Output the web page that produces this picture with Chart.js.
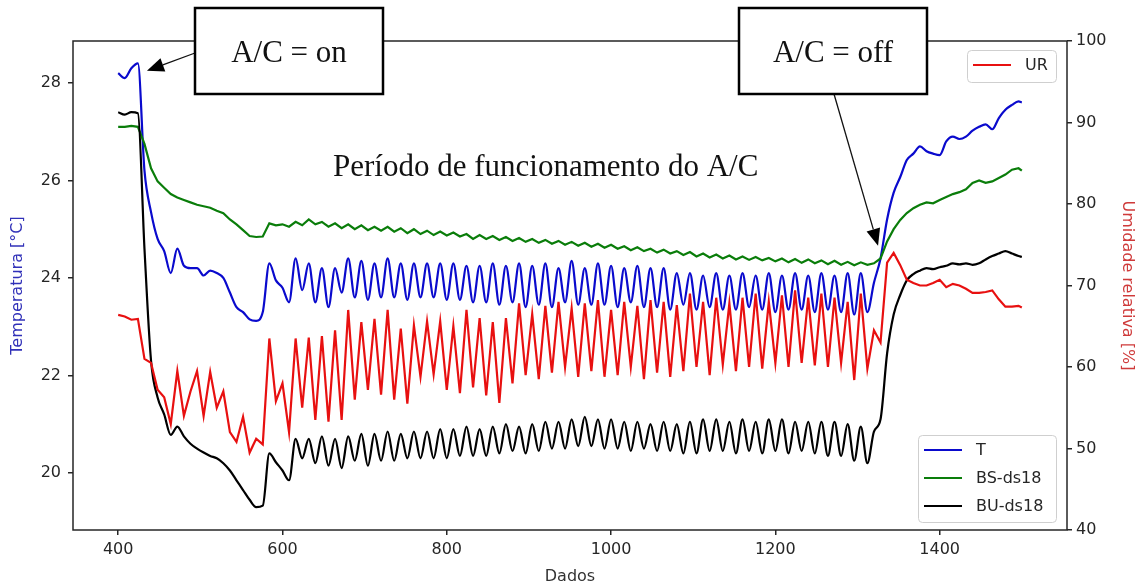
<!DOCTYPE html>
<html>
<head>
<meta charset="utf-8">
<script src="https://cdn.jsdelivr.net/npm/chart.js@4/dist/chart.umd.min.js"></script>
<style>
  html, body { margin: 0; padding: 0; background: #fff; }
  canvas { display: block; }
</style>
</head>
<body>
<canvas id="acChart" width="1142" height="587"></canvas>
<script>
// x positions (Dados)
const dados = [
  400, 408, 416, 424, 432, 440, 448, 456, 464, 472,
  480, 488, 496, 504, 512, 520, 528, 536, 544, 552,
  560, 568, 576, 584, 592, 600, 608,
  616, 624, 632, 640, 648, 656, 664, 672, 680, 688,
  696, 704, 712, 720, 728, 736, 744, 752, 760, 768,
  776, 784, 792, 800, 808, 816, 824, 832, 840, 848,
  856, 864, 872, 880, 888, 896, 904, 912, 920, 928,
  936, 944, 952, 960, 968, 976, 984, 992, 1000, 1008,
  1016, 1024, 1032, 1040, 1048, 1056, 1064, 1072, 1080, 1088,
  1096, 1104, 1112, 1120, 1128, 1136, 1144, 1152, 1160, 1168,
  1176, 1184, 1192, 1200, 1208, 1216, 1224, 1232, 1240, 1248,
  1256, 1264, 1272, 1280, 1288, 1296, 1304, 1312,
  1320, 1328, 1336, 1344, 1352, 1360, 1368, 1376, 1384, 1392,
  1400, 1408, 1416, 1424, 1432, 1440, 1448, 1456, 1464, 1472,
  1480, 1488, 1496, 1500
];

// T [°C]
const tempT = [
  28.2, 28.1, 28.3, 28.4, 26.2, 25.35, 24.8, 24.55, 24.1, 24.6,
  24.25, 24.2, 24.2, 24.05, 24.15, 24.1, 24.0, 23.7, 23.4, 23.3,
  23.15, 23.12, 23.3, 24.3, 23.95, 23.8, 23.5,
  24.4, 23.75, 24.3, 23.5, 24.2, 23.4, 24.2, 23.7, 24.4, 23.6,
  24.35, 23.55, 24.3, 23.6, 24.4, 23.6, 24.3, 23.55, 24.3, 23.6,
  24.3, 23.6, 24.3, 23.55, 24.3, 23.55, 24.25, 23.5, 24.25, 23.5,
  24.3, 23.45, 24.25, 23.5, 24.3, 23.4, 24.25, 23.45, 24.3, 23.4,
  24.2, 23.5, 24.35, 23.45, 24.2, 23.45, 24.3, 23.45, 24.25, 23.4,
  24.2, 23.5, 24.25, 23.4, 24.2, 23.4, 24.2, 23.35, 24.1, 23.45,
  24.1, 23.35, 24.05, 23.4, 24.1, 23.35, 24.05, 23.35, 24.1, 23.4,
  24.05, 23.35, 24.1, 23.3, 24.05, 23.35, 24.1, 23.35, 24.05, 23.3,
  24.1, 23.35, 24.05, 23.3, 24.1, 23.25, 24.1, 23.3,
  23.9, 24.4, 25.2, 25.75, 26.07, 26.42, 26.55, 26.7, 26.6, 26.55,
  26.52, 26.8, 26.9, 26.85, 26.9, 27.02, 27.1, 27.15, 27.05, 27.28,
  27.45, 27.55, 27.62, 27.6
];

// BS-ds18 [°C]
const tempBS = [
  27.1, 27.1, 27.12, 27.1, 26.75, 26.25, 25.98, 25.85, 25.72, 25.65,
  25.6, 25.55, 25.5, 25.47, 25.44, 25.38, 25.33, 25.2, 25.1, 24.98,
  24.86, 24.84, 24.85, 25.12, 25.08, 25.1, 25.05,
  25.15, 25.08, 25.2, 25.1, 25.15, 25.05, 25.12, 25.02, 25.1, 25.0,
  25.08, 24.98, 25.05, 24.97, 25.05, 24.95, 25.02, 24.92, 25.0, 24.9,
  24.97, 24.88, 24.95, 24.87, 24.93, 24.85, 24.9, 24.8, 24.88, 24.8,
  24.86, 24.78, 24.84, 24.76, 24.82, 24.74, 24.8, 24.72, 24.78, 24.7,
  24.76, 24.68, 24.74, 24.66, 24.72, 24.64, 24.7, 24.62, 24.68, 24.6,
  24.65, 24.57, 24.63, 24.55, 24.6, 24.52, 24.58, 24.5, 24.55, 24.47,
  24.53, 24.44, 24.5, 24.42, 24.48, 24.4, 24.46, 24.38, 24.44, 24.37,
  24.43, 24.36, 24.41, 24.34, 24.4, 24.32, 24.39, 24.31, 24.38, 24.3,
  24.36, 24.28, 24.35, 24.27, 24.33, 24.26, 24.32, 24.27,
  24.3, 24.4, 24.75, 25.0, 25.19, 25.33, 25.43, 25.5, 25.55, 25.53,
  25.6, 25.66, 25.72, 25.76, 25.82, 25.95, 26.0, 25.95, 25.98, 26.05,
  26.12, 26.22, 26.25, 26.2
];

// BU-ds18 [°C]
const tempBU = [
  27.4, 27.35, 27.4, 27.38, 24.6, 22.3, 21.55, 21.2, 20.78, 20.95,
  20.75, 20.6, 20.5, 20.42, 20.35, 20.3, 20.2, 20.05, 19.85, 19.65,
  19.45, 19.3, 19.33, 20.4, 20.22, 20.05, 19.85,
  20.7, 20.3, 20.7, 20.2, 20.75, 20.15, 20.7, 20.1, 20.75, 20.25,
  20.8, 20.15, 20.8, 20.25, 20.85, 20.25, 20.8, 20.3, 20.85, 20.3,
  20.85, 20.3, 20.9, 20.3, 20.9, 20.35, 20.95, 20.35, 20.9, 20.35,
  20.95, 20.4, 21.0, 20.45, 20.95, 20.4, 21.0, 20.45, 21.05, 20.5,
  21.05, 20.5, 21.1, 20.55, 21.15, 20.55, 21.1, 20.5, 21.1, 20.5,
  21.05, 20.45, 21.05, 20.5, 21.0, 20.45, 21.05, 20.45, 21.0, 20.4,
  21.05, 20.4, 21.1, 20.45, 21.1, 20.45, 21.05, 20.4, 21.1, 20.45,
  21.05, 20.4, 21.1, 20.45, 21.1, 20.4, 21.05, 20.45, 21.05, 20.4,
  21.05, 20.35, 21.05, 20.35, 21.0, 20.25, 20.95, 20.2,
  20.85, 21.1, 22.45, 23.25, 23.65, 23.95, 24.08, 24.15, 24.2, 24.18,
  24.22, 24.25, 24.3, 24.28, 24.3, 24.27, 24.3, 24.38, 24.45, 24.5,
  24.55, 24.5, 24.45, 24.43
];

// UR [%]
const umidUR = [
  66.4, 66.2, 65.8, 65.9, 61.0, 60.5, 57.2, 56.3, 53.0, 59.5,
  54.0, 57.0, 59.5, 54.0, 59.4, 55.0, 57.0, 52.0, 50.8, 53.9,
  49.5, 51.2, 50.5, 63.5, 55.8, 58.0, 52.0,
  63.5, 55.0, 63.6, 53.5, 63.8, 53.3, 64.5, 53.5, 67.0, 56.0,
  65.5, 57.2, 65.9, 56.6, 67.0, 56.0, 64.7, 55.5, 65.1, 58.8,
  65.6, 59.1, 65.6, 57.2, 65.0, 56.8, 67.0, 57.5, 66.0, 56.5,
  65.5, 55.6, 66.0, 58.0, 67.8, 59.0, 66.5, 58.5, 67.5, 59.3,
  68.0, 60.0, 67.2, 58.8, 67.8, 59.5, 68.2, 58.8, 67.0, 59.0,
  68.0, 60.0, 67.5, 58.5, 68.2, 59.3, 68.0, 58.8, 67.6, 59.5,
  69.0, 60.0, 68.0, 59.0, 68.5, 60.3, 67.8, 59.5, 68.5, 60.0,
  69.0, 59.8, 68.0, 60.5, 68.8, 60.0, 69.4, 60.5, 68.5, 60.2,
  69.0, 60.0, 68.5, 60.5, 68.0, 58.4, 69.0, 59.8,
  64.5, 63.0, 72.8, 74.0, 72.5, 70.7, 70.3, 70.0, 70.0, 70.3,
  70.7, 69.8, 70.2, 70.0, 69.6, 69.1, 69.1, 69.2, 69.4, 68.3,
  67.4, 67.4, 67.5, 67.3
];

const xTicks = [400, 600, 800, 1000, 1200, 1400];
const tempTicks = [20, 22, 24, 26, 28];
const urTicks = [40, 50, 60, 70, 80, 90, 100];

const sans = 'DejaVu Sans';
const serif = '"Liberation Serif", "Times New Roman", serif';
const inkColor = '#262626';

function points(ys) {
  return dados.map((x, i) => ({ x: x, y: ys[i] }));
}

function fixedTicks(values) {
  return scale => { scale.ticks = values.map(v => ({ value: v })); };
}

function drawArrow(ctx, x0, y0, x1, y1) {
  const ang = Math.atan2(y1 - y0, x1 - x0);
  const head = 17, half = 7;
  const bx = x1 - head * Math.cos(ang), by = y1 - head * Math.sin(ang);
  ctx.strokeStyle = '#111';
  ctx.fillStyle = '#000';
  ctx.lineWidth = 1.3;
  ctx.beginPath();
  ctx.moveTo(x0, y0);
  ctx.lineTo(bx, by);
  ctx.stroke();
  ctx.beginPath();
  ctx.moveTo(x1, y1);
  ctx.lineTo(bx - half * Math.sin(ang), by + half * Math.cos(ang));
  ctx.lineTo(bx + half * Math.sin(ang), by - half * Math.cos(ang));
  ctx.closePath();
  ctx.fill();
}

function drawNoteBox(ctx, x, y, w, h, text) {
  ctx.fillStyle = '#fff';
  ctx.fillRect(x, y, w, h);
  ctx.lineWidth = 2.5;
  ctx.strokeStyle = '#000';
  ctx.strokeRect(x, y, w, h);
  ctx.fillStyle = '#111';
  ctx.font = '31px ' + serif;
  ctx.textAlign = 'center';
  ctx.textBaseline = 'alphabetic';
  ctx.fillText(text, x + w / 2, y + h / 2 + 11);
}

function drawLegendBox(ctx, sets, x, y, w, h) {
  ctx.fillStyle = 'rgba(255,255,255,0.85)';
  ctx.strokeStyle = '#cfcfcf';
  ctx.lineWidth = 1;
  ctx.beginPath();
  ctx.roundRect(x + 0.5, y + 0.5, w, h, 4);
  ctx.fill();
  ctx.stroke();
  ctx.font = '16px ' + sans;
  ctx.textAlign = 'left';
  ctx.textBaseline = 'middle';
  sets.forEach((ds, i) => {
    const cy = y + 15 + i * 28;
    ctx.strokeStyle = ds.borderColor;
    ctx.lineWidth = 2.2;
    ctx.beginPath();
    ctx.moveTo(x + 6, cy);
    ctx.lineTo(x + 44, cy);
    ctx.stroke();
    ctx.fillStyle = inkColor;
    ctx.fillText(ds.label, x + 58, cy + 1);
  });
}

const notesPlugin = {
  id: 'notes',
  afterDatasetsDraw(chart) {
    const { ctx, chartArea: a, scales } = chart;
    const ds = chart.data.datasets;
    ctx.save();
    // axes frame
    ctx.strokeStyle = inkColor;
    ctx.lineWidth = 1.5;
    ctx.strokeRect(a.left, a.top, a.right - a.left, a.bottom - a.top);

    drawLegendBox(ctx, [ds[3]], 967, 50, 89, 32);
    drawLegendBox(ctx, [ds[0], ds[1], ds[2]], 918, 435, 138, 87);

    ctx.fillStyle = '#111';
    ctx.font = '31px ' + serif;
    ctx.textAlign = 'left';
    ctx.textBaseline = 'alphabetic';
    ctx.fillText('Período de funcionamento do A/C', 333, 176);

    drawArrow(ctx, 195, 53, scales.x.getPixelForValue(435), scales.y.getPixelForValue(28.25));
    drawArrow(ctx, 834, 94, scales.x.getPixelForValue(1325), scales.y.getPixelForValue(24.66));
    drawNoteBox(ctx, 195, 8, 188, 86, 'A/C = on');
    drawNoteBox(ctx, 739, 8, 188, 86, 'A/C = off');
    ctx.restore();
  }
};

const tickGrid = { drawOnChartArea: false, drawTicks: true, tickLength: 5, color: inkColor, lineWidth: 1.5 };
const plainLabel = v => String(v);

new Chart(document.getElementById('acChart').getContext('2d'), {
  type: 'line',
  data: {
    datasets: [
      { label: 'T', data: points(tempT), borderColor: '#0a0acd', yAxisID: 'y', order: 3, cubicInterpolationMode: 'monotone' },
      { label: 'BS-ds18', data: points(tempBS), borderColor: '#0a7d0a', yAxisID: 'y', order: 2 },
      { label: 'BU-ds18', data: points(tempBU), borderColor: '#000000', yAxisID: 'y', order: 1, cubicInterpolationMode: 'monotone' },
      { label: 'UR', data: points(umidUR), borderColor: '#e81010', yAxisID: 'y2', order: 0 }
    ]
  },
  options: {
    responsive: false,
    animation: false,
    devicePixelRatio: 1,
    layout: { padding: { top: 41, left: 0, right: 0, bottom: 0 } },
    elements: {
      point: { radius: 0 },
      line: { borderWidth: 2.2, tension: 0, fill: false }
    },
    plugins: {
      legend: { display: false },
      tooltip: { enabled: false }
    },
    scales: {
      x: {
        type: 'linear',
        min: 345,
        max: 1555,
        afterBuildTicks: fixedTicks(xTicks),
        afterFit: s => { s.height = 57; },
        border: { display: false },
        grid: tickGrid,
        ticks: { font: { family: sans, size: 16 }, color: inkColor, padding: 5, maxRotation: 0, callback: plainLabel },
        title: { display: true, text: 'Dados', color: '#333', font: { family: sans, size: 16 }, padding: { top: 0, bottom: 1 } }
      },
      y: {
        type: 'linear',
        position: 'left',
        min: 18.83,
        max: 28.86,
        afterBuildTicks: fixedTicks(tempTicks),
        afterFit: s => { s.width = 73; },
        border: { display: false },
        grid: tickGrid,
        ticks: { font: { family: sans, size: 16 }, color: inkColor, padding: 7, callback: plainLabel },
        title: { display: true, text: 'Temperatura [°C]', color: '#3030b8', font: { family: sans, size: 16 }, padding: { top: 8, bottom: 0 } }
      },
      y2: {
        type: 'linear',
        position: 'right',
        min: 40,
        max: 100,
        afterBuildTicks: fixedTicks(urTicks),
        afterFit: s => { s.width = 75; },
        border: { display: false },
        grid: tickGrid,
        ticks: { font: { family: sans, size: 16 }, color: inkColor, padding: 4, callback: plainLabel },
        title: { display: true, text: 'Umidade relativa [%]', color: '#cf3a3a', font: { family: sans, size: 16 }, padding: { top: 5, bottom: 0 } }
      }
    }
  },
  plugins: [notesPlugin]
});
</script>
</body>
</html>
